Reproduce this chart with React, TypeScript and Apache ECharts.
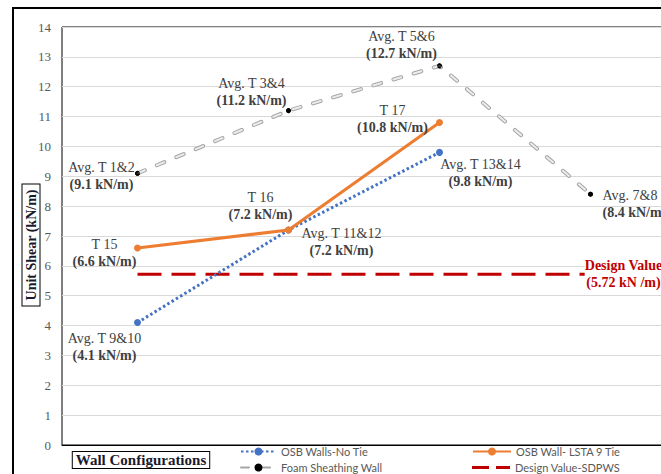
import React, { useEffect, useRef } from 'react';
import * as echarts from 'echarts';

const categories = ['Config 1', 'Config 2', 'Config 3', 'Config 4'];
const yMin = 0;
const yMax = 14;
const yStep = 1;

const osbNoTie = [4.1, 7.2, 9.8, null];
const osbNoTieNames = ['Avg. T 9&10', 'Avg. T 11&12', 'Avg. T 13&14', ''];
const osbLsta = [6.6, 7.2, 10.8, null];
const osbLstaNames = ['T 15', 'T 16', 'T 17', ''];
const foam = [9.1, 11.2, 12.7, 8.4];
const foamNames = ['Avg. T 1&2', 'Avg. T 3&4', 'Avg. T 5&6', 'Avg. 7&8'];
const designValue = [5.72, 5.72, 5.72, 5.72];

const seriesNames = ['OSB Walls-No Tie', 'OSB Wall- LSTA 9 Tie', 'Foam Sheathing Wall', 'Design Value-SDPWS'];

// label placement (style)
const noTieOffsets = [[-33, 24], [53, 12], [41, 21], [0, 0]];
const lstaOffsets = [[-33, 5], [-28, -24], [-47, -4], [0, 0]];
const foamOffsets = [[-36, 3], [-37, -19], [-38, -21], [12, 10]];
const foamAligns = ['center', 'center', 'center', 'left'];

const SERIF = '"Liberation Serif", "Times New Roman", serif';
const rich = {
  n: { fontFamily: SERIF, fontSize: 14, color: '#404040', lineHeight: 17 },
  b: { fontFamily: SERIF, fontSize: 14, color: '#404040', lineHeight: 17, fontWeight: 'bold' },
  r: { fontFamily: SERIF, fontSize: 14, color: '#c00000', lineHeight: 17, fontWeight: 'bold' },
};

function withLabels(values: (number | null)[], names: string[], offsets: number[][], aligns?: string[]) {
  return values.map((v, i) => ({
    value: v,
    label: {
      show: v !== null && names[i] !== '',
      position: 'inside',
      offset: offsets[i],
      align: aligns ? aligns[i] : 'center',
      formatter: `{n|${names[i]}}\n{b|(${v} kN/m)}`,
      rich,
    },
  }));
}

const legendText = { color: '#595959', fontFamily: 'Lato', fontSize: 11 };
function legendAt(item: any, left: number, top: number, width: number) {
  return {
    data: [item],
    left,
    top,
    padding: 0,
    itemWidth: width,
    itemHeight: 10,
    itemGap: 0,
    textStyle: legendText,
  };
}

export default function App() {
  const ref = useRef<HTMLDivElement>(null);
  useEffect(() => {
    if (!ref.current) return;
    const chart = echarts.init(ref.current, undefined, { renderer: 'svg' });
    const option: any = {
      animation: false,
      backgroundColor: '#ffffff',
      grid: { left: 62, right: 14, top: 27, bottom: 29, show: true, borderColor: '#000', borderWidth: 1 },
      xAxis: {
        type: 'category',
        data: categories,
        boundaryGap: true,
        axisLabel: { show: false },
        axisTick: { show: false },
        axisLine: { show: true, lineStyle: { color: '#000', width: 1 } },
      },
      yAxis: {
        type: 'value',
        min: yMin,
        max: yMax,
        interval: yStep,
        axisLine: { show: false },
        axisTick: { show: false },
        splitLine: { lineStyle: { color: '#d9d9d9', width: 1 } },
        axisLabel: { color: '#595959', fontFamily: SERIF, fontSize: 13, margin: 11 },
      },
      legend: [
        legendAt(seriesNames[0], 240, 446, 35),
        legendAt(seriesNames[2], 240, 462, 35),
        legendAt(seriesNames[1], 472, 446, 38),
        legendAt(
          {
            name: seriesNames[3],
            icon: 'path://M0,0h17v3h-17zM24,0h14v3h-14z',
            itemStyle: { color: '#c00000', borderWidth: 0 },
          },
          472,
          462,
          38
        ),
      ],
      series: [
        {
          name: seriesNames[0],
          type: 'line',
          data: withLabels(osbNoTie, osbNoTieNames, noTieOffsets),
          symbol: 'circle',
          symbolSize: 7,
          itemStyle: { color: '#4472c4' },
          lineStyle: { color: '#4472c4', width: 3, type: [2.5, 2.5] },
          z: 3,
        },
        {
          name: seriesNames[1],
          type: 'line',
          data: withLabels(osbLsta, osbLstaNames, lstaOffsets),
          symbol: 'circle',
          symbolSize: 7,
          itemStyle: { color: '#ed7d31' },
          lineStyle: { color: '#ed7d31', width: 3 },
          z: 4,
        },
        {
          name: seriesNames[2],
          type: 'line',
          data: withLabels(foam, foamNames, foamOffsets, foamAligns),
          symbol: 'circle',
          symbolSize: 5,
          itemStyle: { color: '#000' },
          lineStyle: { color: '#a6a6a6', width: 4, type: [8, 13], cap: 'round' },
          z: 5,
        },
        {
          name: 'foam-inner',
          type: 'line',
          data: foam,
          symbol: 'none',
          lineStyle: { color: '#ececec', width: 2, type: [8, 13], cap: 'round' },
          z: 6,
          silent: true,
        },
        {
          name: 'foam-dots',
          type: 'scatter',
          data: foam,
          symbol: 'circle',
          symbolSize: 5,
          itemStyle: { color: '#000' },
          z: 7,
          silent: true,
        },
        {
          name: seriesNames[3],
          type: 'line',
          data: designValue.map((v, i) => {
            const last = i === designValue.length - 1;
            return {
              value: v,
              symbol: last ? 'circle' : 'none',
              symbolSize: 1,
              label: {
                show: last,
                position: 'inside',
                offset: [33, 0],
                formatter: `{r|Design Value}\n{r|(${v} kN /m)}`,
                rich,
                backgroundColor: '#fff',
              },
            };
          }),
          symbol: 'none',
          itemStyle: { color: '#c00000' },
          lineStyle: { color: '#c00000', width: 3, type: [24, 10] },
          z: 2,
        },
      ],
      graphic: [
        {
          type: 'rect',
          shape: { x: 13, y: 8, width: 700, height: 520 },
          style: { fill: 'none', stroke: '#000', lineWidth: 2 },
          silent: true,
        },
        {
          type: 'text',
          x: 31,
          y: 245,
          rotation: Math.PI / 2,
          style: {
            text: 'Unit Shear (kN/m)',
            fontFamily: SERIF,
            fontSize: 14,
            fontWeight: 'bold',
            fill: '#1a1a2e',
            align: 'center',
            verticalAlign: 'middle',
            borderColor: '#000',
            borderWidth: 1,
            padding: [2, 5, 1, 5],
            backgroundColor: '#fff',
          },
        },
        {
          type: 'text',
          x: 141,
          y: 460,
          style: {
            text: 'Wall Configurations',
            fontFamily: SERIF,
            fontSize: 15,
            fontWeight: 'bold',
            fill: '#1a1a2e',
            align: 'center',
            verticalAlign: 'middle',
            borderColor: '#000',
            borderWidth: 1,
            padding: [1, 3, 0, 3],
            backgroundColor: '#fff',
          },
        },
      ],
    };
    chart.setOption(option);
    return () => chart.dispose();
  }, []);
  return (
    <div style={{ position: 'fixed', left: 0, top: 0, width: 661, height: 474, overflow: 'hidden', background: '#fff' }}>
      <div ref={ref} style={{ width: 680, height: 474 }} />
    </div>
  );
}
